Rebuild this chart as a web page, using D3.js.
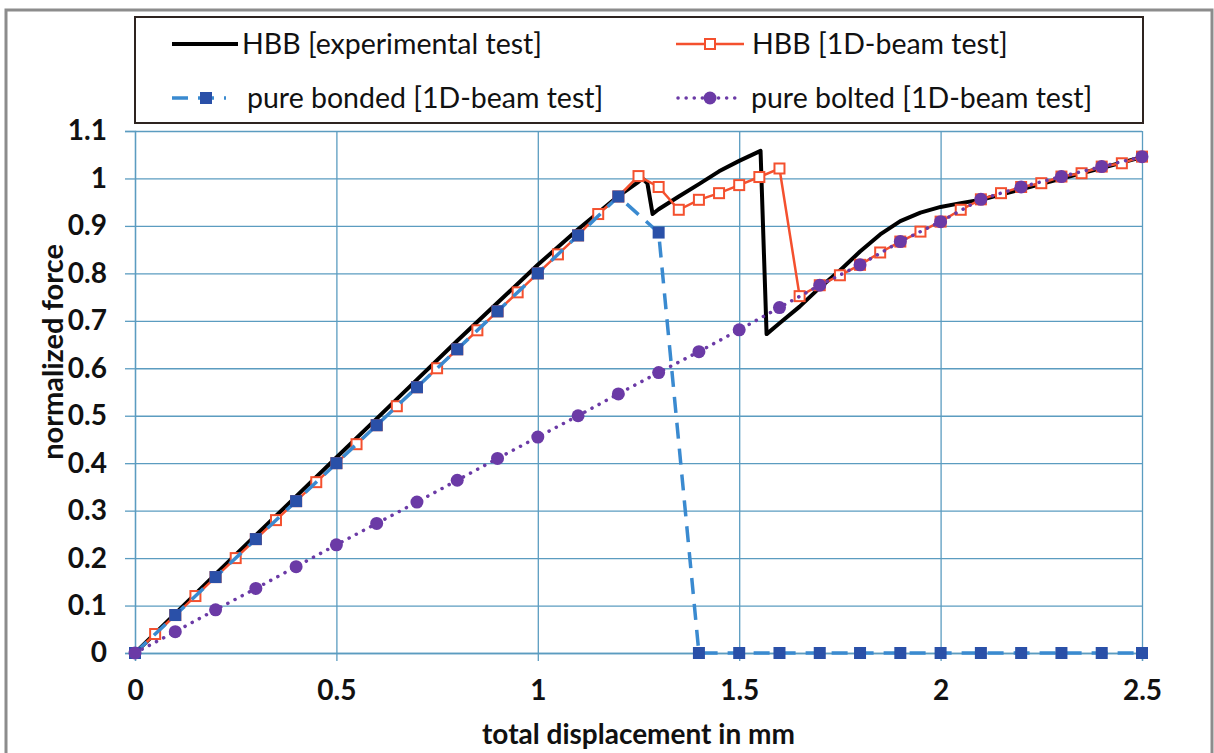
<!DOCTYPE html>
<html lang="en">

<head>
    <style>
        body {
            margin: 0;
            background: #fff;
            font-family: Lato, 'Open Sans', sans-serif;
        }
    </style>
</head>

<body>
    <div class='chart'></div>
    <script src="https://d3js.org/d3.v7.min.js"></script>
    <script>
        // HBB experimental curve
        const expX = [0, 0.1, 0.2, 0.3, 0.4, 0.5, 0.6, 0.7, 0.8, 0.9, 1.0, 1.1, 1.2, 1.25, 1.26, 1.272, 1.285, 1.3, 1.35, 1.4, 1.45, 1.5, 1.553, 1.568, 1.6, 1.65, 1.7, 1.75, 1.8, 1.85, 1.9, 1.95, 2.0, 2.05, 2.1, 2.2, 2.3, 2.4, 2.5];
        const expY = [0, 0.083, 0.166, 0.248, 0.33, 0.412, 0.494, 0.576, 0.658, 0.738, 0.818, 0.893, 0.963, 0.993, 1.0, 0.99, 0.925, 0.935, 0.962, 0.988, 1.015, 1.037, 1.058, 0.672, 0.695, 0.73, 0.77, 0.806, 0.846, 0.882, 0.91, 0.928, 0.94, 0.948, 0.955, 0.977, 1.0, 1.022, 1.045];

        // HBB 1D-beam test
        const beamX = [0, 0.05, 0.1, 0.15, 0.2, 0.25, 0.3, 0.35, 0.4, 0.45, 0.5, 0.55, 0.6, 0.65, 0.7, 0.75, 0.8, 0.85, 0.9, 0.95, 1.0, 1.05, 1.1, 1.15, 1.2, 1.25, 1.3, 1.35, 1.4, 1.45, 1.5, 1.55, 1.6, 1.65, 1.7, 1.75, 1.8, 1.85, 1.9, 1.95, 2.0, 2.05, 2.1, 2.15, 2.2, 2.25, 2.3, 2.35, 2.4, 2.45, 2.5];
        const beamY = [0, 0.04, 0.08, 0.12, 0.16, 0.2, 0.24, 0.28, 0.32, 0.36, 0.40, 0.44, 0.48, 0.52, 0.56, 0.60, 0.64, 0.68, 0.72, 0.76, 0.80, 0.84, 0.88, 0.925, 0.962, 1.005, 0.982, 0.934, 0.955, 0.969, 0.986, 1.003, 1.021, 0.752, 0.775, 0.796, 0.818, 0.844, 0.867, 0.888, 0.909, 0.934, 0.956, 0.969, 0.982, 0.99, 1.004, 1.011, 1.025, 1.032, 1.046];

        // pure bonded / pure bolted, every 0.1 mm
        const stepX = [0, 0.1, 0.2, 0.3, 0.4, 0.5, 0.6, 0.7, 0.8, 0.9, 1.0, 1.1, 1.2, 1.3, 1.4, 1.5, 1.6, 1.7, 1.8, 1.9, 2.0, 2.1, 2.2, 2.3, 2.4, 2.5];
        const bondedY = [0, 0.08, 0.16, 0.24, 0.32, 0.40, 0.48, 0.56, 0.64, 0.72, 0.80, 0.88, 0.962, 0.886, 0, 0, 0, 0, 0, 0, 0, 0, 0, 0, 0, 0];
        const boltedY = [0, 0.045, 0.091, 0.136, 0.182, 0.228, 0.273, 0.318, 0.364, 0.41, 0.455, 0.5, 0.546, 0.591, 0.635, 0.681, 0.728, 0.775, 0.818, 0.867, 0.909, 0.956, 0.982, 1.004, 1.025, 1.046];

        const xTicks = [0, 0.5, 1, 1.5, 2, 2.5];
        const yTicks = [0, 0.1, 0.2, 0.3, 0.4, 0.5, 0.6, 0.7, 0.8, 0.9, 1, 1.1];
        const legendNames = ['HBB [experimental test]', 'HBB [1D-beam test]', 'pure bonded [1D-beam test]', 'pure bolted [1D-beam test]'];

        const W = 1214, H = 753;
        const m = { left: 135, right: 72, top: 131, bottom: 100 };
        const pw = W - m.left - m.right, ph = H - m.top - m.bottom;
        const gridCol = '#5b9cc0';
        const redCol = '#f4502e', blueLine = '#3a8ad0', blueMark = '#2a50a8', purpleCol = '#6b3aa6';

        const svg = d3.select('.chart').append('svg')
            .attr('width', W).attr('height', H);

        // outer frame
        svg.append('rect')
            .attr('x', 6).attr('y', 10).attr('width', W - 8).attr('height', H + 10)
            .attr('fill', '#fff').attr('stroke', '#8c8c8c').attr('stroke-width', 3);

        const x = d3.scaleLinear().domain([0, 2.5]).range([0, pw]);
        const y = d3.scaleLinear().domain([0, 1.1]).range([ph, 0]);

        const g = svg.append('g').attr('transform', `translate(${m.left},${m.top})`);

        // grid
        g.append('g').attr('class', 'grid')
            .call(d3.axisLeft(y).tickValues(yTicks).tickSize(-pw).tickFormat(''))
            .call(a => a.select('.domain').remove());
        g.append('g').attr('class', 'grid')
            .attr('transform', `translate(0,${ph})`)
            .call(d3.axisBottom(x).tickValues(xTicks).tickSize(-ph).tickFormat(''))
            .call(a => a.select('.domain').remove());
        g.selectAll('.grid line').attr('stroke', gridCol).attr('stroke-width', 1.3);

        // axes
        const yAxis = g.append('g')
            .call(d3.axisLeft(y).tickValues(yTicks).tickSize(10).tickPadding(18).tickFormat(d => d));
        const xAxis = g.append('g')
            .attr('transform', `translate(0,${ph})`)
            .call(d3.axisBottom(x).tickValues(xTicks).tickSize(8).tickPadding(25).tickFormat(d => d));
        [yAxis, xAxis].forEach(a => {
            a.selectAll('path, line').attr('stroke', gridCol).attr('stroke-width', 1.3);
            a.selectAll('text').attr('fill', '#111')
                .style('font-family', 'Lato, sans-serif').style('font-size', '28px').style('font-weight', 'bold');
        });
        xAxis.selectAll('text').attr('dy', '0.5em');

        // axis titles
        svg.append('text')
            .attr('x', m.left + pw / 2).attr('y', 744)
            .attr('text-anchor', 'middle')
            .style('font-size', '28px').style('font-weight', 'bold').attr('fill', '#111')
            .text('total displacement in mm');
        svg.append('text')
            .attr('transform', 'translate(63,352) rotate(-90)')
            .attr('text-anchor', 'middle')
            .style('font-size', '29px').style('font-weight', 'bold').attr('fill', '#111')
            .text('normalized force');

        const line = d3.line().x(d => x(d[0])).y(d => y(d[1]));
        const expData = d3.zip(expX, expY);
        const beamData = d3.zip(beamX, beamY);
        const bondedData = d3.zip(stepX, bondedY);
        const boltedData = d3.zip(stepX, boltedY);

        // experimental
        g.append('path').datum(expData).attr('d', line)
            .attr('fill', 'none').attr('stroke', '#000').attr('stroke-width', 4)
            .attr('stroke-linejoin', 'round');

        // 1D-beam HBB
        g.append('path').datum(beamData).attr('d', line)
            .attr('fill', 'none').attr('stroke', redCol).attr('stroke-width', 2.5);
        g.selectAll('.beamPt').data(beamData).enter().append('rect')
            .attr('x', d => x(d[0]) - 5).attr('y', d => y(d[1]) - 5)
            .attr('width', 10).attr('height', 10)
            .attr('fill', '#fff').attr('stroke', redCol).attr('stroke-width', 2);

        // pure bonded
        g.append('path').datum(bondedData).attr('d', line)
            .attr('fill', 'none').attr('stroke', blueLine).attr('stroke-width', 3.5)
            .attr('stroke-dasharray', '16,10');
        g.selectAll('.bondPt').data(bondedData).enter().append('rect')
            .attr('x', d => x(d[0]) - 6).attr('y', d => y(d[1]) - 6)
            .attr('width', 12).attr('height', 12)
            .attr('fill', blueMark);

        // pure bolted
        g.append('path').datum(boltedData).attr('d', line)
            .attr('fill', 'none').attr('stroke', purpleCol).attr('stroke-width', 3.5)
            .attr('stroke-linecap', 'round').attr('stroke-dasharray', '0.1,8');
        g.selectAll('.boltPt').data(boltedData).enter().append('circle')
            .attr('cx', d => x(d[0])).attr('cy', d => y(d[1])).attr('r', 6.5)
            .attr('fill', purpleCol);

        // legend
        const lg = svg.append('g');
        lg.append('rect')
            .attr('x', 135).attr('y', 17).attr('width', 1008).attr('height', 106)
            .attr('fill', '#fff').attr('stroke', '#2e2420').attr('stroke-width', 2);
        const items = [
            { x: 172, y: 44, type: 'exp' },
            { x: 676, y: 44, type: 'beam' },
            { x: 172, y: 98, type: 'bond' },
            { x: 676, y: 98, type: 'bolt' }
        ];
        items.forEach((it, i) => {
            const s = lg.append('g').attr('transform', `translate(${it.x},${it.y})`);
            if (it.type === 'exp') {
                s.append('line').attr('x1', 0).attr('x2', 66).attr('stroke', '#000').attr('stroke-width', 4);
            } else if (it.type === 'beam') {
                s.append('line').attr('x1', 0).attr('x2', 68).attr('stroke', redCol).attr('stroke-width', 2.5);
                s.append('rect').attr('x', 29).attr('y', -5).attr('width', 10).attr('height', 10)
                    .attr('fill', '#fff').attr('stroke', redCol).attr('stroke-width', 2);
            } else if (it.type === 'bond') {
                s.append('line').attr('x1', 0).attr('x2', 54).attr('stroke', blueLine).attr('stroke-width', 3.5)
                    .attr('stroke-dasharray', '16,10');
                s.append('rect').attr('x', 28).attr('y', -6).attr('width', 12).attr('height', 12).attr('fill', blueMark);
            } else {
                s.append('line').attr('x1', 2).attr('x2', 64).attr('stroke', purpleCol).attr('stroke-width', 3.5)
                    .attr('stroke-linecap', 'round').attr('stroke-dasharray', '0.1,8');
                s.append('circle').attr('cx', 34).attr('r', 6.5).attr('fill', purpleCol);
            }
            s.append('text')
                .attr('x', it.type === 'exp' ? 70 : (it.type === 'beam' ? 76 : 75))
                .attr('dy', '0.35em')
                .style('font-size', '28.5px').attr('fill', '#111')
                .text(legendNames[i]);
        });
    </script>
</body>

</html>
